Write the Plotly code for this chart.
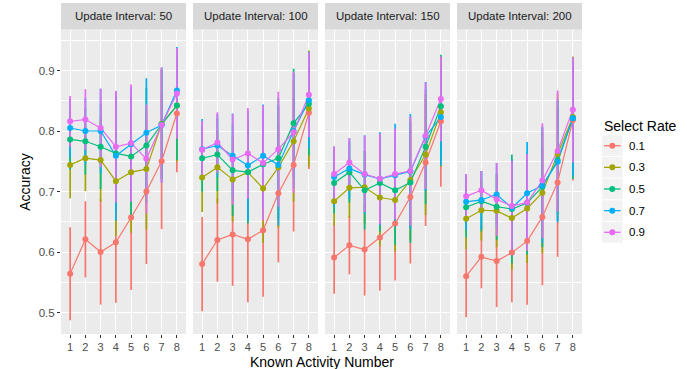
import plotly.graph_objects as go

# ---------------- data ----------------
known_activity = [1, 2, 3, 4, 5, 6, 7, 8]
update_intervals = [50, 100, 150, 200]
select_rates = ["0.1", "0.3", "0.5", "0.7", "0.9"]
rate_colors = ["#F8766D", "#A3A500", "#00BF7D", "#00B0F6", "#E76BF3"]

# mean accuracy, rows = select rate 0.1, 0.3, 0.5, 0.7, 0.9
acc_50 = [
    [0.564, 0.621, 0.600, 0.616, 0.657, 0.700, 0.750, 0.829],
    [0.744, 0.755, 0.752, 0.717, 0.732, 0.737, 0.812, 0.842],
    [0.786, 0.783, 0.774, 0.763, 0.758, 0.776, 0.811, 0.842],
    [0.805, 0.800, 0.800, 0.759, 0.778, 0.797, 0.810, 0.867],
    [0.816, 0.819, 0.805, 0.774, 0.780, 0.754, 0.810, 0.862],
]
sd_50 = [
    [0.077, 0.063, 0.087, 0.100, 0.120, 0.120, 0.112, 0.097],
    [0.055, 0.054, 0.069, 0.090, 0.100, 0.100, 0.090, 0.093],
    [0.050, 0.055, 0.070, 0.095, 0.100, 0.095, 0.090, 0.090],
    [0.048, 0.055, 0.070, 0.107, 0.095, 0.090, 0.095, 0.072],
    [0.042, 0.050, 0.065, 0.092, 0.097, 0.090, 0.095, 0.075],
]
acc_100 = [
    [0.580, 0.620, 0.629, 0.621, 0.636, 0.697, 0.744, 0.830],
    [0.723, 0.740, 0.720, 0.732, 0.705, 0.740, 0.783, 0.837],
    [0.755, 0.761, 0.735, 0.732, 0.745, 0.755, 0.813, 0.845],
    [0.770, 0.776, 0.759, 0.743, 0.759, 0.744, 0.800, 0.851],
    [0.769, 0.781, 0.753, 0.763, 0.747, 0.770, 0.798, 0.860],
]
sd_100 = [
    [0.078, 0.069, 0.085, 0.104, 0.110, 0.114, 0.110, 0.093],
    [0.057, 0.060, 0.070, 0.080, 0.090, 0.100, 0.100, 0.096],
    [0.055, 0.060, 0.075, 0.085, 0.090, 0.100, 0.090, 0.085],
    [0.050, 0.052, 0.070, 0.090, 0.085, 0.100, 0.095, 0.080],
    [0.048, 0.050, 0.075, 0.075, 0.095, 0.095, 0.100, 0.070],
]
acc_150 = [
    [0.591, 0.611, 0.604, 0.624, 0.647, 0.691, 0.748, 0.816],
    [0.684, 0.706, 0.707, 0.690, 0.686, 0.719, 0.761, 0.831],
    [0.714, 0.732, 0.702, 0.714, 0.702, 0.715, 0.774, 0.841],
    [0.724, 0.738, 0.728, 0.721, 0.727, 0.733, 0.791, 0.823],
    [0.729, 0.748, 0.729, 0.721, 0.729, 0.734, 0.792, 0.853],
]
sd_150 = [
    [0.060, 0.048, 0.076, 0.088, 0.094, 0.110, 0.105, 0.108],
    [0.040, 0.050, 0.060, 0.080, 0.085, 0.100, 0.100, 0.090],
    [0.050, 0.050, 0.065, 0.080, 0.090, 0.100, 0.095, 0.085],
    [0.050, 0.050, 0.065, 0.077, 0.085, 0.095, 0.090, 0.080],
    [0.046, 0.040, 0.063, 0.075, 0.075, 0.090, 0.088, 0.070],
]
acc_200 = [
    [0.560, 0.592, 0.585, 0.599, 0.618, 0.658, 0.715, 0.818],
    [0.655, 0.669, 0.668, 0.656, 0.672, 0.698, 0.762, 0.823],
    [0.674, 0.684, 0.675, 0.671, 0.681, 0.708, 0.752, 0.821],
    [0.683, 0.686, 0.695, 0.673, 0.697, 0.710, 0.749, 0.821],
    [0.692, 0.702, 0.687, 0.676, 0.682, 0.718, 0.767, 0.835],
]
sd_200 = [
    [0.068, 0.052, 0.076, 0.082, 0.105, 0.113, 0.123, 0.100],
    [0.050, 0.050, 0.060, 0.085, 0.090, 0.100, 0.100, 0.100],
    [0.050, 0.050, 0.055, 0.090, 0.085, 0.100, 0.100, 0.100],
    [0.046, 0.048, 0.052, 0.080, 0.085, 0.095, 0.100, 0.095],
    [0.037, 0.032, 0.060, 0.075, 0.080, 0.095, 0.100, 0.087],
]
y_ticks = [0.5, 0.6, 0.7, 0.8, 0.9]

# ---------------- layout helpers ----------------
W, H = 687, 369
FONT = "Liberation Sans, Arial, Helvetica, sans-serif"
panel_left = [61, 193, 325, 457]
panel_w = 125
panel_top, panel_bottom = 29.5, 334
strip_top = 3


def px(xp):
    return xp / W


def py(yp):
    return 1 - yp / H


panels = [(acc_50, sd_50), (acc_100, sd_100), (acc_150, sd_150), (acc_200, sd_200)]
y_lo = 0.5 - (panel_bottom - 312.5) / 605
y_hi = 0.9 + (70.5 - panel_top) / 605

fig = go.Figure()
layout = dict(
    width=W, height=H,
    margin=dict(l=0, r=0, t=0, b=0),
    paper_bgcolor="white",
    plot_bgcolor="#EBEBEB",
    showlegend=False,
    font=dict(family=FONT, size=12, color="#000000"),
)
shapes = []
annotations = []

# error bars first (all groups), like ggplot's geom_errorbar layer
for i, (acc, sd) in enumerate(panels):
    suf = "" if i == 0 else str(i + 1)
    for j in range(len(select_rates)):
        c = rate_colors[j]
        fig.add_trace(go.Scatter(
            x=known_activity, y=acc[j],
            mode="markers",
            name=select_rates[j],
            xaxis="x" + suf, yaxis="y" + suf,
            marker=dict(color=c, size=1, opacity=0),
            error_y=dict(type="data", array=sd[j], visible=True,
                         color=c, thickness=1.7, width=0),
            showlegend=False, hoverinfo="skip",
        ))

# then lines, then points
for i, (acc, sd) in enumerate(panels):
    suf = "" if i == 0 else str(i + 1)
    for j in range(len(select_rates)):
        c = rate_colors[j]
        fig.add_trace(go.Scatter(
            x=known_activity, y=acc[j],
            mode="lines",
            name=select_rates[j],
            xaxis="x" + suf, yaxis="y" + suf,
            line=dict(color=c, width=1.2),
            showlegend=False,
        ))
for i, (acc, sd) in enumerate(panels):
    suf = "" if i == 0 else str(i + 1)
    for j in range(len(select_rates)):
        c = rate_colors[j]
        fig.add_trace(go.Scatter(
            x=known_activity, y=acc[j],
            mode="markers",
            name=select_rates[j],
            xaxis="x" + suf, yaxis="y" + suf,
            marker=dict(color=c, size=6),
            showlegend=False,
        ))

for i in range(len(panels)):
    suf = "" if i == 0 else str(i + 1)
    x0 = px(panel_left[i])
    x1 = px(panel_left[i] + panel_w)
    layout["xaxis" + suf] = dict(
        domain=[x0, x1], range=[0.4, 8.6], anchor="y" + suf,
        tickvals=known_activity, ticktext=[str(v) for v in known_activity],
        showgrid=True, gridcolor="white", gridwidth=1.1, zeroline=False,
        ticks="outside", ticklen=3, tickwidth=1, tickcolor="#333333",
        tickfont=dict(family=FONT, size=11, color="#4D4D4D"),
        showline=False, fixedrange=True,
    )
    layout["yaxis" + suf] = dict(
        domain=[py(panel_bottom), py(panel_top)], range=[y_lo, y_hi],
        anchor="x" + suf,
        tickvals=y_ticks, ticktext=[f"{v:.1f}" for v in y_ticks],
        showgrid=True, gridcolor="white", gridwidth=1.1, zeroline=False,
        minor=dict(dtick=0.05, tick0=0.45, showgrid=True, gridcolor="white",
                   gridwidth=0.55, ticks=""),
        ticks="outside" if i == 0 else "", ticklen=3, tickwidth=1, tickcolor="#333333",
        showticklabels=(i == 0),
        tickfont=dict(family=FONT, size=11.5, color="#4D4D4D"),
        showline=False, fixedrange=True,
    )
    # facet strip
    shapes.append(dict(type="rect", xref="paper", yref="paper",
                       x0=x0, x1=x1, y0=py(panel_top), y1=py(strip_top),
                       fillcolor="#D9D9D9", line=dict(width=0), layer="below"))
    annotations.append(dict(
        text=f"Update Interval: {update_intervals[i]}",
        xref="paper", yref="paper",
        x=(x0 + x1) / 2, y=py((panel_top + strip_top) / 2),
        xanchor="center", yanchor="middle", showarrow=False,
        font=dict(family=FONT, size=11.5, color="#1A1A1A"),
    ))

# axis titles
annotations.append(dict(
    text="Known Activity Number", xref="paper", yref="paper",
    x=px((panel_left[0] + panel_left[3] + panel_w) / 2), y=py(362),
    xanchor="center", yanchor="middle", showarrow=False, borderpad=0,
    font=dict(family=FONT, size=14, color="#000000"),
))
annotations.append(dict(
    text="Accuracy", xref="paper", yref="paper",
    x=px(25), y=py((panel_top + panel_bottom) / 2),
    xanchor="center", yanchor="middle", showarrow=False, textangle=-90,
    font=dict(family=FONT, size=14, color="#000000"),
))

# legend (drawn manually, ggplot style)
annotations.append(dict(
    text="Select Rate", xref="paper", yref="paper",
    x=px(602), y=py(125.5), xanchor="left", yanchor="middle", showarrow=False,
    font=dict(family=FONT, size=14, color="#000000"),
))
key_left, key_size = 602, 20.6
for j, (lab, c) in enumerate(zip(select_rates, rate_colors)):
    cy = 145.7 + 21.65 * j
    shapes.append(dict(type="rect", xref="paper", yref="paper",
                       x0=px(key_left), x1=px(key_left + key_size),
                       y0=py(cy + key_size / 2), y1=py(cy - key_size / 2),
                       fillcolor="#F2F2F2", line=dict(width=0)))
    shapes.append(dict(type="line", xref="paper", yref="paper",
                       x0=px(key_left + 2), x1=px(key_left + key_size - 2),
                       y0=py(cy), y1=py(cy), line=dict(color=c, width=1.3)))
    cx = key_left + key_size / 2
    shapes.append(dict(type="circle", xref="paper", yref="paper",
                       x0=px(cx - 3), x1=px(cx + 3), y0=py(cy + 3), y1=py(cy - 3),
                       fillcolor=c, line=dict(width=0)))
    annotations.append(dict(
        text=lab, xref="paper", yref="paper",
        x=px(627), y=py(cy), xanchor="left", yanchor="middle", showarrow=False,
        font=dict(family=FONT, size=11.5, color="#000000"),
    ))

layout["shapes"] = shapes
layout["annotations"] = annotations
fig.update_layout(**layout)
fig.write_html("out.html")
